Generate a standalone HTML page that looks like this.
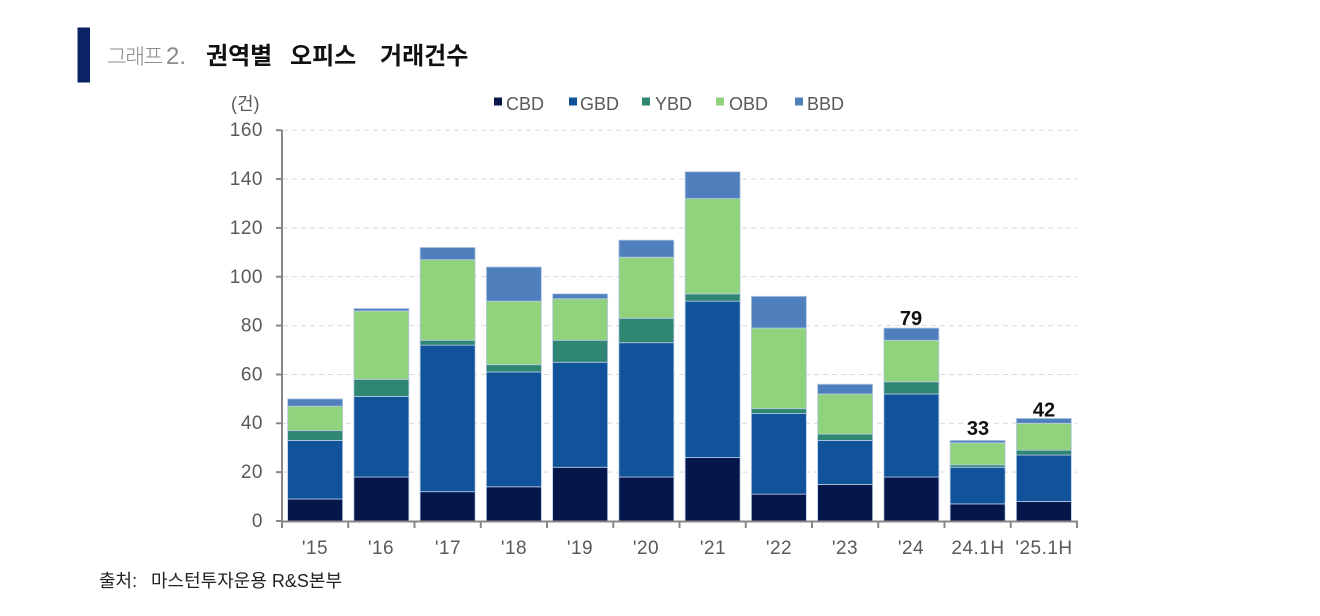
<!DOCTYPE html>
<html>
<head>
<meta charset="utf-8">
<style>
html,body{margin:0;padding:0;background:#fff;}
svg{display:block;}
text{font-family:"Liberation Sans","Noto Sans CJK KR",sans-serif;}
</style>
</head>
<body>
<svg id="c" width="1320" height="616" viewBox="0 0 1320 616" xmlns="http://www.w3.org/2000/svg">
  <rect x="0" y="0" width="1320" height="616" fill="#fff"/>
  <!-- title -->
  <rect x="77.5" y="27.5" width="12.5" height="55" fill="#0b2364"/>
  <text x="107" y="64" font-size="21.5" fill="#8a8a8a" letter-spacing="-1.5" style="font-weight:300">그래프</text>
  <text x="166" y="64" font-size="24" fill="#8a8a8a">2.</text>
  <text x="206" y="64" font-size="24" font-weight="bold" fill="#111">권역별</text>
  <text x="290" y="64" font-size="24" font-weight="bold" fill="#111">오피스</text>
  <text x="380" y="64" font-size="24" font-weight="bold" fill="#111">거래건수</text>

  <!-- legend -->
  <rect x="494" y="97.5" width="8" height="8" fill="#05174a"/>
  <text x="506" y="110" font-size="18" fill="#595959">CBD</text>
  <rect x="569" y="97.5" width="8" height="8" fill="#10539b"/>
  <text x="580" y="110" font-size="18" fill="#595959">GBD</text>
  <rect x="642" y="97.5" width="8" height="8" fill="#2e8673"/>
  <text x="655" y="110" font-size="18" fill="#595959">YBD</text>
  <rect x="716" y="97.5" width="8" height="8" fill="#91d27c"/>
  <text x="729" y="110" font-size="18" fill="#595959">OBD</text>
  <rect x="795" y="97.5" width="8" height="8" fill="#4f80bd"/>
  <text x="807" y="110" font-size="18" fill="#595959">BBD</text>

  <!-- unit -->
  <text x="231" y="110" font-size="18" fill="#595959">(건)</text>

  <g id="grid"></g>
  <g id="bars"></g>

  <!-- axes -->
  <line x1="282" y1="130" x2="282" y2="522" stroke="#878787" stroke-width="2"/>
  <line x1="281" y1="521.5" x2="1078" y2="521.5" stroke="#878787" stroke-width="2"/>
  <g id="ticks" stroke="#878787" stroke-width="2"></g>

  <!-- y labels -->
  <g font-size="19" fill="#595959" text-anchor="end" letter-spacing="0.5">
    <text x="263" y="527">0</text>
    <text x="263" y="478">20</text>
    <text x="263" y="429">40</text>
    <text x="263" y="380.5">60</text>
    <text x="263" y="331.5">80</text>
    <text x="263" y="283">100</text>
    <text x="263" y="234">120</text>
    <text x="263" y="185">140</text>
    <text x="263" y="136">160</text>
  </g>

  <!-- x labels -->
  <g font-size="19" fill="#595959" text-anchor="middle" letter-spacing="0.5">
    <text x="315" y="554">'15</text>
    <text x="381" y="554">'16</text>
    <text x="448" y="554">'17</text>
    <text x="514" y="554">'18</text>
    <text x="580" y="554">'19</text>
    <text x="646" y="554">'20</text>
    <text x="713" y="554">'21</text>
    <text x="779" y="554">'22</text>
    <text x="845" y="554">'23</text>
    <text x="911" y="554">'24</text>
    <text x="978" y="554">24.1H</text>
    <text x="1044" y="554">'25.1H</text>
  </g>

  <!-- data labels -->
  <g font-size="20" font-weight="bold" fill="#111" text-anchor="middle">
    <text x="911" y="325">79</text>
    <text x="978" y="435">33</text>
    <text x="1044" y="416.5">42</text>
  </g>

  <!-- source -->
  <text x="99" y="587" font-size="18" fill="#222">출처:</text>
  <text x="151" y="587" font-size="18" fill="#222">마스턴투자운용 R&amp;S본부</text>
</svg>
<script>
(function(){
  var NS="http://www.w3.org/2000/svg";
  function el(t,a,p){var e=document.createElementNS(NS,t);for(var k in a)e.setAttribute(k,a[k]);p.appendChild(e);return e;}
  var y0=521, s=2.4425;
  function Y(v){return y0-v*s;}
  var grid=document.getElementById('grid');
  for(var v=20;v<=160;v+=20){
    el('line',{x1:283,x2:1078,y1:Y(v),y2:Y(v),stroke:'#d9d9d9','stroke-width':1,'stroke-dasharray':'5,4'},grid);
  }
  var ticks=document.getElementById('ticks');
  for(var v=0;v<=160;v+=20){
    el('line',{x1:276,x2:282,y1:Y(v),y2:Y(v)},ticks);
  }
  for(var i=0;i<=12;i++){
    var x=282+66.25*i;
    el('line',{x1:x,x2:x,y1:521,y2:528},ticks);
  }
  var data=[
    [9,33,37,47,50],
    [18,51,58,86,87],
    [12,72,74,107,112],
    [14,61,64,90,104],
    [22,65,74,91,93],
    [18,73,83,108,115],
    [26,90,93,132,143],
    [11,44,46,79,92],
    [15,33,35.6,52,56],
    [18,52,57,74,79],
    [7,22,23,32,33],
    [8,27,29,40,42]
  ];
  var cols=['#05174a','#10539b','#2e8673','#91d27c','#4f80bd'];
  var bars=document.getElementById('bars');
  for(var i=0;i<data.length;i++){
    var cx=282+66.25*(i+0.5), w=55, x=cx-w/2;
    var prev=0;
    for(var j=0;j<5;j++){
      var top=data[i][j];
      if(top>prev){
        el('rect',{x:x,y:Y(top),width:w,height:Y(prev)-Y(top),fill:cols[j],stroke:'#b9cbe6','stroke-width':0.8},bars);
      }
      prev=top;
    }
  }
})();
</script>
</body>
</html>
